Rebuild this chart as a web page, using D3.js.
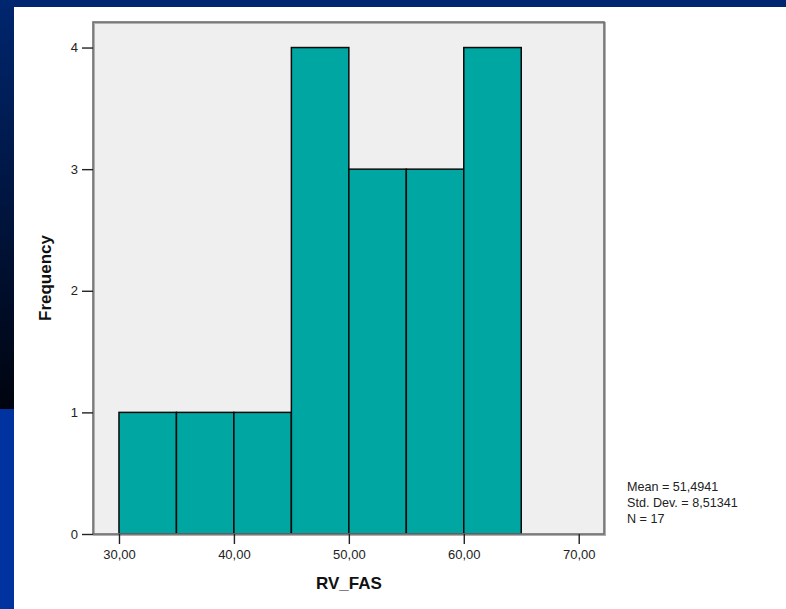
<!DOCTYPE html>
<html>
<head>
<meta charset="utf-8">
<script src="https://cdn.jsdelivr.net/npm/d3@7"></script>
<style>
  body { margin: 0; background: #fff; }
  svg { display: block; font-family: Arial, "Liberation Sans", sans-serif; }
</style>
</head>
<body>
<div id="chart"></div>
<script>
// histogram bins of RV_FAS (lower edge, upper edge) and their counts
const binStarts = [30, 35, 40, 45, 50, 55, 60];
const binEnds = [35, 40, 45, 50, 55, 60, 65];
const counts = [1, 1, 1, 4, 3, 3, 4];
const xTicks = [30, 40, 50, 60, 70];
const yTicks = [0, 1, 2, 3, 4];
const statLines = ["Mean = 51,4941", "Std. Dev. = 8,51341", "N = 17"];

const width = 786, height = 609;
const plot = { left: 93, top: 22, right: 604, bottom: 534 };

const svg = d3.select("#chart").append("svg")
    .attr("width", width)
    .attr("height", height);

// slide background bits (blue frame top + left)
const grad = svg.append("defs").append("linearGradient")
    .attr("id", "leftband").attr("x1", 0).attr("y1", 0).attr("x2", 0).attr("y2", 1);
grad.append("stop").attr("offset", "0%").attr("stop-color", "#00266f");
grad.append("stop").attr("offset", "100%").attr("stop-color", "#00040f");
svg.append("rect").attr("x", 0).attr("y", 0).attr("width", 14).attr("height", 409)
    .attr("fill", "url(#leftband)");
svg.append("rect").attr("x", 0).attr("y", 409).attr("width", 14).attr("height", height - 409)
    .attr("fill", "#0033a0");
svg.append("rect").attr("x", 0).attr("y", 0).attr("width", width).attr("height", 7)
    .attr("fill", "#00266f");

const x = d3.scaleLinear().domain([27.74, 72.2]).range([plot.left, plot.right]);
const y = d3.scaleLinear().domain([0, 4.21]).range([plot.bottom, plot.top]);

const fmt = d => d3.format(".2f")(d).replace(".", ",");

// plot background
svg.append("rect")
    .attr("x", plot.left).attr("y", plot.top)
    .attr("width", plot.right - plot.left).attr("height", plot.bottom - plot.top)
    .attr("fill", "#efefef");

// bars
svg.selectAll(".bar")
    .data(counts)
    .enter().append("rect")
    .attr("class", "bar")
    .attr("x", (d, i) => x(binStarts[i]))
    .attr("y", d => y(d))
    .attr("width", (d, i) => x(binEnds[i]) - x(binStarts[i]))
    .attr("height", d => y(0) - y(d))
    .attr("fill", "#00a6a1")
    .attr("stroke", "#0a0a0a")
    .attr("stroke-width", 1.5);

// frame
svg.append("rect")
    .attr("x", plot.left + 1).attr("y", plot.top + 1)
    .attr("width", plot.right - plot.left).attr("height", plot.bottom - plot.top)
    .attr("fill", "none").attr("stroke", "#b0b0b0").attr("stroke-width", 2);
svg.append("rect")
    .attr("x", plot.left).attr("y", plot.top)
    .attr("width", plot.right - plot.left).attr("height", plot.bottom - plot.top)
    .attr("fill", "none").attr("stroke", "#6e6e6e").attr("stroke-width", 1.6);

// axes
const yAxis = svg.append("g")
    .attr("transform", `translate(${plot.left},0)`)
    .call(d3.axisLeft(y).tickValues(yTicks).tickFormat(d3.format("d")).tickSize(11).tickPadding(4));
const xAxis = svg.append("g")
    .attr("transform", `translate(0,${plot.bottom})`)
    .call(d3.axisBottom(x).tickValues(xTicks).tickFormat(fmt).tickSize(10).tickPadding(6));

[xAxis, yAxis].forEach(g => {
    g.select(".domain").remove();
    g.selectAll(".tick line").attr("stroke", "#222").attr("stroke-width", 1.4);
    g.selectAll(".tick text")
        .attr("fill", "#222")
        .style("font-size", "13px")
        .style("font-family", "Arial, 'Liberation Sans', sans-serif");
});

// axis titles
svg.append("text")
    .attr("x", x(50)).attr("y", 589)
    .attr("text-anchor", "middle")
    .style("font-size", "17px").style("font-weight", "bold")
    .attr("fill", "#111")
    .text("RV_FAS");

svg.append("text")
    .attr("transform", `translate(51,${(plot.top + plot.bottom) / 2}) rotate(-90)`)
    .attr("text-anchor", "middle")
    .style("font-size", "17px").style("font-weight", "bold")
    .attr("fill", "#111")
    .text("Frequency");

// summary stats
svg.selectAll(".stat")
    .data(statLines)
    .enter().append("text")
    .attr("class", "stat")
    .attr("x", 627)
    .attr("y", (d, i) => 491 + i * 16)
    .style("font-size", "12.6px")
    .attr("fill", "#222")
    .text(d => d);
</script>
</body>
</html>
